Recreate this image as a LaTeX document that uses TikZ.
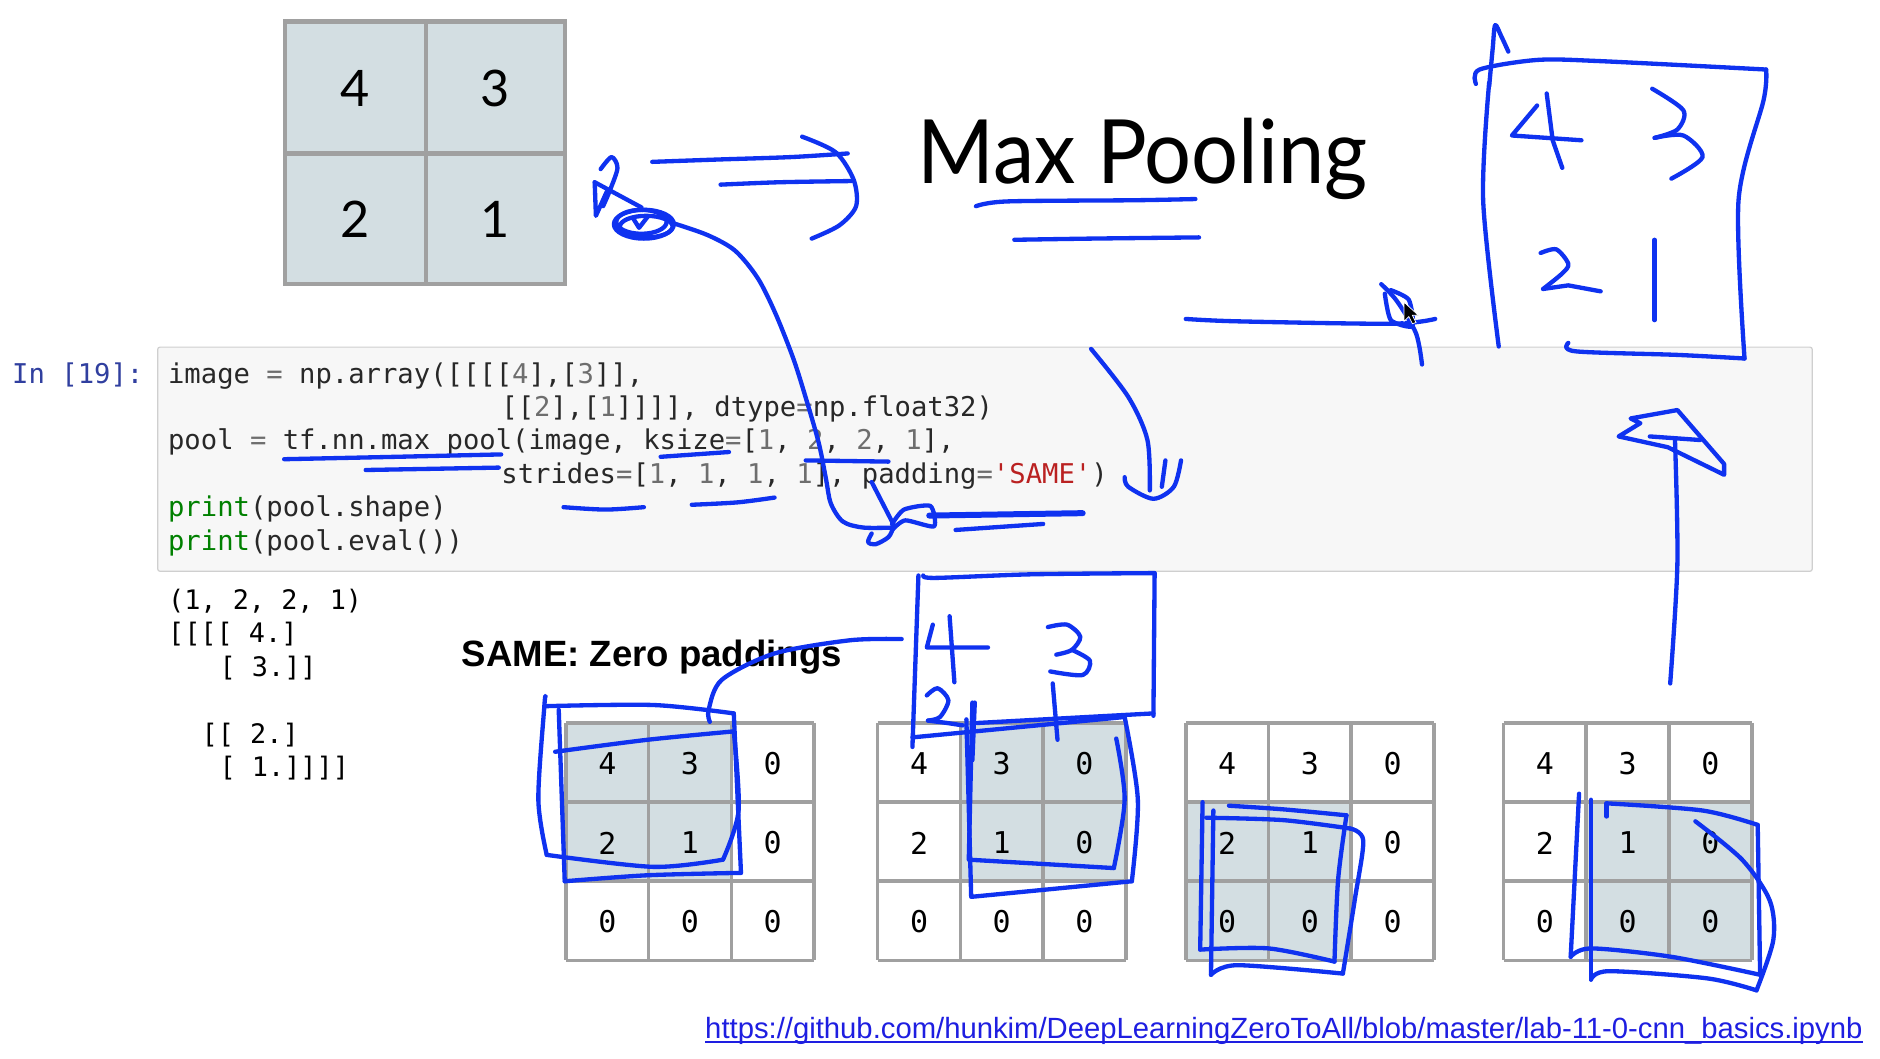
\documentclass[tikz,border=0pt]{standalone}
\usepackage{fontspec}
\setmainfont{Liberation Sans}
\newfontfamily\codefont{DejaVu Sans Mono}
\newfontfamily\titlefont{Lato}
\definecolor{inkblue}{RGB}{15,50,240}
\definecolor{gridgray}{RGB}{160,160,160}
\definecolor{cellshade}{RGB}{211,222,226}
\definecolor{codebg}{RGB}{247,247,247}
\definecolor{codeborder}{RGB}{207,207,207}
\definecolor{codetext}{RGB}{40,40,40}
\definecolor{numgray}{RGB}{110,110,110}
\definecolor{kwgreen}{RGB}{0,128,0}
\definecolor{strred}{RGB}{186,33,33}
\definecolor{promptblue}{RGB}{48,63,159}
\definecolor{urlblue}{RGB}{30,30,225}
\newcommand{\nm}[1]{\textcolor{numgray}{#1}}
\newcommand{\kw}[1]{\textcolor{kwgreen}{#1}}
\newcommand{\opx}[1]{\textcolor{numgray}{#1}}
\tikzset{
  ink/.style={draw=inkblue, line width=3.6pt, line cap=round, line join=round},
  gridline/.style={draw=gridgray, line width=3pt},
  codeline/.style={anchor=base west, inner sep=0pt, text=codetext, font=\codefont\fontsize{22.7}{26}\selectfont},
  outline/.style={anchor=base west, inner sep=0pt, text=black, font=\codefont\fontsize{22.4}{26}\selectfont},
  bigdig/.style={inner sep=0pt, font=\titlefont\fontsize{42}{46}\selectfont},
  celldig/.style={inner sep=0pt, font=\codefont\fontsize{25}{28}\selectfont},
  codebox/.style={draw=codeborder, fill=codebg, line width=1pt, rounded corners=2pt, inner sep=0pt}
}
\begin{document}
\begin{tikzpicture}[x=1pt,y=-1pt]
\useasboundingbox (0,0) rectangle (1568,883);
\fill[white] (0,0) rectangle (1568,883);

% ---- top 2x2 grid
\fill[cellshade] (238,18) rectangle (471,237);
\draw[gridline, line width=3.5pt] (238,18) rectangle (471,237) (355,18) -- (355,237) (238,128) -- (471,128);
\node[bigdig] (t11) at (296.5,74) {4};
\node[bigdig] (t12) at (413,74) {3};
\node[bigdig] (t21) at (296.5,183) {2};
\node[bigdig] (t22) at (413,183) {1};

% ---- title
\node[anchor=base west, inner sep=0pt, font=\titlefont\fontsize{74}{80}\selectfont] (title) at (765,153) {\scalebox{0.935}[1]{Max Pooling}};

% ---- code cell
\node[codebox, anchor=north west, minimum width=1380pt, minimum height=187pt] (cell) at (131,289) {};
\node[codeline, text=promptblue] (prompt) at (10,320) {In [19]:};
\node[codeline] (c1) at (140,320) {image \opx{=} np.array([[[[\nm{4}],[\nm{3}]],};
\node[codeline] (c2) at (418,347) {[[\nm{2}],[\nm{1}]]]], dtype\opx{=}np.float32)};
\node[codeline] (c3) at (140,375) {pool \opx{=} tf.nn.max\_pool(image, ksize\opx{=}[\nm{1}, \nm{2}, \nm{2}, \nm{1}],};
\node[codeline] (c4) at (418,403) {strides\opx{=}[\nm{1}, \nm{1}, \nm{1}, \nm{1}], padding\opx{=}\textcolor{strred}{\symbol{39}SAME\symbol{39}})};
\node[codeline] (c5) at (140,431) {\kw{print}(pool.shape)};
\node[codeline] (c6) at (140,459) {\kw{print}(pool.eval())};

% ---- output
\node[outline] (o1) at (140,508) {(1, 2, 2, 1)};
\node[outline] (o2) at (140,536) {[[[[ 4.]};
\node[outline] (o3) at (183,564) {[ 3.]]};
\node[outline] (o4) at (168,620) {[[ 2.]};
\node[outline] (o5) at (183,648) {[ 1.]]]]};

% ---- SAME label
\node[anchor=base west, inner sep=0pt, font=\bfseries\fontsize{30.5}{34}\selectfont] (same) at (385,556) {SAME: Zero paddings};

% ---- bottom 3x3 grids
\foreach \gx/\sc/\sr/\gn in {472/0/0/a, 732/1/0/b, 989/0/1/c, 1254/1/1/d} {
  \fill[cellshade] (\gx+\sc*69,603+\sr*66) rectangle ++(138,132);
  \foreach \r/\row in {0/{4,3,0},1/{2,1,0},2/{0,0,0}} {
    \foreach \v [count=\c from 0] in \row {
      \node[celldig] (g\gn-\r-\c) at (\gx+\c*69+34.5, 603+\r*66+34) {\v};
    }
  }
  \foreach \i in {0,1,2,3} {
    \draw[gridline] (\gx+\i*69,603) -- (\gx+\i*69,801);
    \draw[gridline] (\gx,603+\i*66) -- (\gx+207,603+\i*66);
  }
}

% ---- URL
\node[anchor=base west, inner sep=0pt, text=urlblue, font=\fontsize{24.4}{28}\selectfont] (url) at (588,866) {https://github.com/hunkim/DeepLearningZeroToAll/blob/master/lab-11-0-cnn\_basics.ipynb};
\draw[urlblue, line width=1.3pt] ([yshift=-3pt]url.base west) -- ([yshift=-3pt]url.base east);

% ================= handwritten ink =================
% scribble + eye near top grid
\draw[ink] plot[smooth] coordinates {(501,141) (510,131) (515,140) (509,158) (503,172)};
\draw[ink] (496,152) -- (497,180) -- (506,160);
\draw[ink] (496,152) -- (535,173);
\draw[ink] (537,187) ellipse [x radius=25, y radius=12];
\draw[ink] (535,185) ellipse [x radius=21, y radius=10];
\draw[ink] (539,189) ellipse [x radius=22, y radius=9];
\draw[ink] (528,182) -- (533,190) -- (540,181);
% arrow to the right
\draw[ink] plot[smooth] coordinates {(544,135) (600,133) (660,131) (707,128)};
\draw[ink] plot[smooth] coordinates {(601,154) (650,152) (710,151)};
\draw[ink] plot[smooth] coordinates {(669,114) (697,127) (712,150) (714,172) (700,188) (677,199)};
% long curve down into code
\draw[ink] plot[smooth] coordinates {(561,186) (590,196) (613,209) (632,232) (647,262) (662,300) (673,335) (683,370) (689,400) (693,420) (703,435) (720,440) (745,440)};
\draw[ink] plot[smooth] coordinates {(745,440) (741,448) (730,454) (724,452) (727,445)};
\draw[ink] (727,402) -- (745,437);
\draw[ink] plot[smooth, tension=0.4] coordinates {(744,437) (754,425) (776,422) (779,439) (755,434) (744,442)};
\draw[ink, line width=5pt] (775,430) -- (903,428);
\draw[ink] (797,442) -- (870,437);
% code underlines
\draw[ink] plot[smooth] coordinates {(237,383) (330,381) (418,379)};
\draw[ink] (305,392) -- (416,390);
\draw[ink] (551,381) -- (608,377);
\draw[ink] (672,384) -- (741,385);
\draw[ink] plot[smooth] coordinates {(470,423) (505,425) (537,423)};
\draw[ink] plot[smooth] coordinates {(577,421) (615,419) (646,415)};
% title underlines
\draw[ink] plot[smooth] coordinates {(814,172) (840,168) (947,167) (997,166)};
\draw[ink] plot[smooth] coordinates {(846,200) (910,199) (1000,198)};
% arrow to top-right box
\draw[ink] plot[smooth] coordinates {(989,266) (1032,268) (1160,270) (1197,266)};
\draw[ink] plot[smooth] coordinates {(1152,237) (1165,251) (1181,278) (1186,304)};
\draw[ink] plot[smooth, tension=0.4] coordinates {(1155,245) (1160,267) (1178,272) (1175,250) (1160,242)};
% cursor
\filldraw[fill=black, draw=white, line width=0.6pt] (1171,252) -- (1171,268) -- (1175,264) -- (1178,270) -- (1181,269) -- (1178,263) -- (1183,263) -- cycle;
% top-right box
\draw[ink] plot[smooth] coordinates {(1242,72) (1245,40) (1247,21) (1252,30) (1258,43)};
\draw[ink] plot[smooth] coordinates {(1242,69) (1237,167) (1250,289)};
\draw[ink] plot[smooth] coordinates {(1231,70) (1234,58) (1282,50) (1335,51) (1473,58)};
\draw[ink] plot[smooth] coordinates {(1473,58) (1471,83) (1450,167) (1455,299)};
\draw[ink] plot[smooth] coordinates {(1308,286) (1314,293) (1399,296) (1455,299)};
\draw[ink] (1290,78) -- (1295,117) -- (1303,140);
\draw[ink] (1282,88) -- (1261,113) -- (1319,117);
\draw[ink] plot[smooth] coordinates {(1378,74) (1404,92) (1399,108) (1380,115)};
\draw[ink] plot[smooth] coordinates {(1380,115) (1404,113) (1420,131) (1394,149)};
\draw[ink] plot[smooth] coordinates {(1285,211) (1298,208) (1308,220) (1303,228) (1287,241)};
\draw[ink] (1287,241) -- (1308,238) -- (1335,243);
\draw[ink] (1380,200) -- (1380,267);
% J arrow from code box
\draw[ink] plot[smooth] coordinates {(910,291) (941,331) (957,367) (959,409)};
\draw[ink] plot[smooth] coordinates {(938,398) (941,406) (962,416) (979,406) (985,384)};
\draw[ink] (972,384) -- (969,406);
% upward arrow with kite head
\draw[ink] plot[smooth] coordinates {(1393,570) (1399,470) (1397,367)};
\draw[ink] (1368,353) -- (1360,349) -- (1399,342) -- (1438,387) -- (1438,396) -- (1391,373) -- (1350,364) -- (1368,353);
\draw[ink] (1376,364) -- (1418,367);
% middle hand box
\draw[ink] plot[smooth] coordinates {(770,480) (780,482) (860,479) (963,478)};
\draw[ink] (963,478) -- (962,597);
\draw[ink] (962,595) -- (815,603);
\draw[ink] (761,615) -- (938,598);
\draw[ink] (766,480) -- (761,623);
\draw[ink] (792,514) -- (796,569);
\draw[ink] (778,521) -- (773,540) -- (824,540);
\draw[ink] plot[smooth] coordinates {(874,523) (890,521) (901,531) (894,542) (881,546)};
\draw[ink] plot[smooth] coordinates {(894,542) (909,551) (903,563) (876,560)};
\draw[ink] plot[smooth] coordinates {(773,580) (782,574) (791,584) (784,598) (774,601)};
\draw[ink] (774,601) -- (790,603) -- (803,605);
\draw[ink] (878,570) -- (882,617);
\draw[ink] (813,586) -- (811,634);
% connector from grid 1 annotation to middle box
\draw[ink] plot[smooth] coordinates {(592,602) (591,592) (602,567) (646,545) (709,534) (752,533)};
% grid 1 annotation
\draw[ink] plot[smooth] coordinates {(463,627) (540,617) (612,610)};
\draw[ink] plot[smooth] coordinates {(612,610) (616,676) (603,717)};
\draw[ink] plot[smooth] coordinates {(603,717) (545,723) (456,713)};
\draw[ink] plot[smooth] coordinates {(456,713) (449,667) (454,589) (455,581)};
\draw[ink] plot[smooth] coordinates {(454,589) (545,588) (612,595)};
\draw[ink] (612,595) -- (618,728);
\draw[ink] plot[smooth] coordinates {(618,728) (540,730) (471,735)};
\draw[ink] (471,735) -- (466,592);
% grid 2 annotation
\draw[ink] (811,586) -- (808,717) -- (929,724);
\draw[ink] plot[smooth] coordinates {(929,724) (938,667) (931,616)};
\draw[ink] (806,600) -- (810,748) -- (944,735);
\draw[ink] plot[smooth] coordinates {(944,735) (949,667) (938,598)};
% grid 3 annotation
\draw[ink] (1003,669) -- (1001,792);
\draw[ink] plot[smooth] coordinates {(1001,792) (1058,791) (1113,802)};
\draw[ink] plot[smooth] coordinates {(1113,802) (1116,734) (1123,680)};
\draw[ink] plot[smooth] coordinates {(1123,680) (1070,675) (1025,672)};
\draw[ink] (1012,676) -- (1010,813);
\draw[ink] plot[smooth] coordinates {(1010,813) (1032,805) (1120,812)};
\draw[ink] plot[smooth] coordinates {(1120,812) (1130,750) (1137,701) (1126,691)};
\draw[ink] plot[smooth] coordinates {(1126,691) (1070,684) (1006,682)};
% grid 4 annotation
\draw[ink] (1317,662) -- (1310,798);
\draw[ink] plot[smooth] coordinates {(1310,798) (1327,791) (1394,798) (1468,813)};
\draw[ink] (1468,813) -- (1466,688);
\draw[ink] plot[smooth] coordinates {(1466,688) (1420,676) (1340,670)};
\draw[ink] (1340,670) -- (1340,681);
\draw[ink] (1327,667) -- (1327,817);
\draw[ink] plot[smooth] coordinates {(1327,817) (1342,810) (1424,816) (1465,826)};
\draw[ink] plot[smooth] coordinates {(1465,826) (1479,784) (1476,751) (1453,717) (1414,685)};
\end{tikzpicture}
\end{document}
